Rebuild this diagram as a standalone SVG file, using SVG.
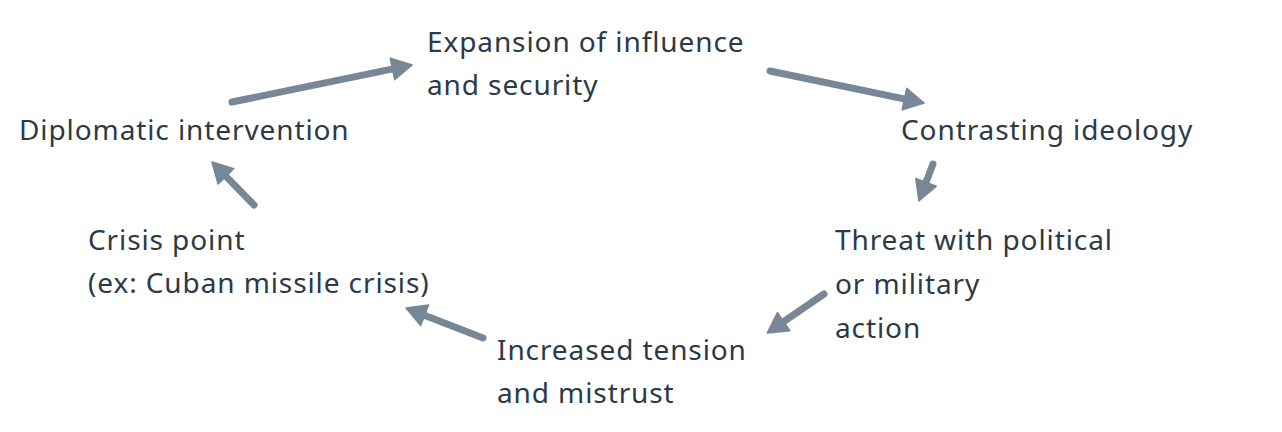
<svg xmlns="http://www.w3.org/2000/svg" width="1282" height="432" viewBox="0 0 1282 432">
<defs>
<style>
text{font-family:"Noto Sans",Roboto,"Liberation Sans",sans-serif;font-size:28px;letter-spacing:0.9px;fill:#2b3a47}
.c line{stroke:#778796;stroke-width:7;stroke-linecap:round;marker-end:url(#ah)}
</style>
<marker id="ah" markerUnits="userSpaceOnUse" markerWidth="24" markerHeight="24" viewBox="-1 -1 24 24" refX="8" refY="11" orient="auto">
<path d="M0,0 L20,11 L0,22 z" fill="#778796" stroke="#778796" stroke-width="1.5" stroke-linejoin="round"/>
</marker>
</defs>
<rect width="1282" height="432" fill="#fff"/>
<g class="c" id="connectors">
<line x1="232" y1="102" x2="400.3" y2="67.4"/>
<line x1="770" y1="71" x2="912.3" y2="100.6"/>
<line x1="933" y1="164" x2="923.2" y2="189.8"/>
<line x1="824" y1="294" x2="777.1" y2="326.2"/>
<line x1="483" y1="338" x2="417.2" y2="312.4"/>
<line x1="254" y1="205" x2="220.4" y2="170.6"/>
</g>
<g id="expansion"><text x="427" y="52">Expansion of influence</text><text x="427" y="95">and security</text></g>
<g id="ideology"><text x="901" y="140">Contrasting ideology</text></g>
<g id="threat"><text x="835" y="250">Threat with political</text><text x="835" y="294">or military</text><text x="835" y="338">action</text></g>
<g id="tension"><text x="497" y="360">Increased tension</text><text x="497" y="403">and mistrust</text></g>
<g id="crisis"><text x="88" y="250">Crisis point</text><text x="88" y="293">(ex: Cuban missile crisis)</text></g>
<g id="diplomatic"><text x="19" y="140">Diplomatic intervention</text></g>
</svg>
